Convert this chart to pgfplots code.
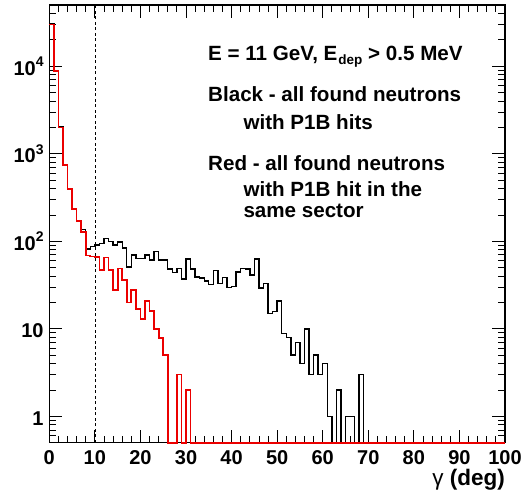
\documentclass[border=0pt]{standalone}
\usepackage{fontspec}
\setmainfont{Liberation Sans}
\usepackage{pgfplots}
\pgfplotsset{compat=1.18}
\usepackage{pgfplotstable}

\pgfplotstableread{
x y
0 30500
1 8900
2 2030
3 752
4 400
5 236
6 174
7 136
8 82
9 87
10 91
11 94
12 107
13 100
14 91
15 98
16 84
17 51
18 70
19 64
20 64
21 70
22 61
23 77
24 61
25 61
26 48
27 44
28 49
29 37
30 63
31 48
32 39
33 38
34 35
35 32
36 46
37 33
38 38.5
39 29.5
40 30.5
41 44.5
42 49
43 48
44 41
45 63
46 29.3
47 32.8
48 15
49 15.8
50 20.7
51 8.9
52 7.9
53 5
54 7
55 4
56 10
57 3
58 5
59 3
60 4
61 1
62 0.5
63 2
64 0.5
65 1
66 1
67 0.5
68 3
69 0.5
100 0.5
}\blackdata

\pgfplotstableread{
x y
0 30000
1 8770
2 1995
3 739
4 393
5 232
6 171
7 128
8 69
9 67
10 66
11 47
12 65
13 47
14 28
15 48.8
16 35.8
17 20
18 27.5
19 16.8
20 12.9
21 20.9
22 16
23 10
24 7.9
25 5
26 0.5
27 0.5
28 3
29 0.5
30 2
31 0.5
100 0.5
}\reddata

\definecolor{rootred}{RGB}{235,0,0}

\begin{document}
\begin{tikzpicture}
\useasboundingbox (-49.3pt,-47.3pt) rectangle (472.7pt,442.7pt);
\begin{axis}[
  at={(0pt,0pt)}, anchor=south west,
  scale only axis, width=455.7pt, height=437.7pt,
  xmin=0, xmax=100, ymode=log, ymin=0.5, ymax=50000,
  clip=false,
  xtick={0,10,...,100}, minor x tick num=4,
  ytick={1,10,100,1000,10000},
  yticklabels={1,10,10\raisebox{8.3pt}{\fontsize{14}{14}\selectfont 2},10\raisebox{8.3pt}{\fontsize{14}{14}\selectfont 3},10\raisebox{8.3pt}{\fontsize{14}{14}\selectfont 4}},
  minor ytick={0.6,0.7,0.8,0.9,2,3,4,5,6,7,8,9,20,30,40,50,60,70,80,90,200,300,400,500,600,700,800,900,2000,3000,4000,5000,6000,7000,8000,9000,20000,30000,40000},
  tick align=inside, tick pos=both,
  major tick length=13pt, minor tick length=7pt,
  every tick/.append style={black, line width=0.8pt},
  axis line style={line width=1.1pt},
  ticklabel style={font=\bfseries\fontsize{20}{20}\selectfont},
  /pgf/number format/assume math mode=true,
  xticklabel style={anchor=north, inner sep=0pt, yshift=-7.5pt},
  yticklabel style={anchor=base east, inner sep=0pt, xshift=-5.5pt, yshift=-9pt},
]
\addplot[black, line width=1.4pt, const plot] table[x=x,y=y] {\blackdata};
\addplot[rootred, line width=1.7pt, const plot] table[x=x,y=y] {\reddata};
\addplot[black, line width=0.7pt, dash pattern=on 3pt off 2.5pt] coordinates {(10,0.5) (10,50000)};
\end{axis}
\begin{scope}[every node/.style={anchor=base west, inner sep=0pt, font=\bfseries\fontsize{20.6}{24}\selectfont}]
\node at (158.7pt,382pt) {E = 11 GeV, E\kern1pt\raisebox{-4pt}{\fontsize{13.5}{14}\selectfont dep} \textgreater{} 0.5 MeV};
\node at (158.7pt,341pt) {Black - all found neutrons};
\node at (194pt,313.4pt) {with P1B hits};
\node at (158.7pt,272pt) {Red - all found neutrons};
\node at (194pt,245.7pt) {with P1B hit in the};
\node at (194pt,224.7pt) {same sector};
\end{scope}
\node[anchor=base east, inner sep=0pt, font=\bfseries\fontsize{22.5}{24}\selectfont] at (455.7pt,-42.3pt) {{\mdseries γ} (deg)};
\end{tikzpicture}
\end{document}
